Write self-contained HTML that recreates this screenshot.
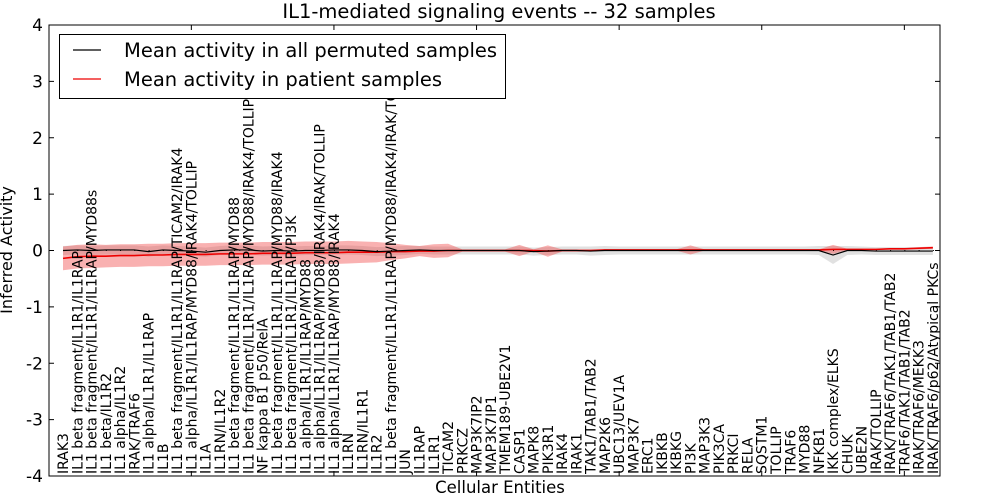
<!DOCTYPE html>
<html><head><meta charset="utf-8"><style>
body{margin:0;background:#fff;}
svg{display:block;font-family:"DejaVu Sans","Liberation Sans",sans-serif;}
</style></head><body>
<svg id="chart" width="1000" height="500"><defs><clipPath id="pc"><rect x="49" y="25" width="891" height="451"/></clipPath></defs></svg>
<script>
const categories=["IRAK3","IL1 beta fragment/IL1R1/IL1RAP","IL1 beta fragment/IL1R1/IL1RAP/MYD88s","IL1 beta/IL1R2","IL1 alpha/IL1R2","IRAK/TRAF6","IL1 alpha/IL1R1/IL1RAP","IL1B","IL1 beta fragment/IL1R1/IL1RAP/TICAM2/IRAK4","IL1 alpha/IL1R1/IL1RAP/MYD88/IRAK4/TOLLIP","IL1A","IL1RN/IL1R2","IL1 beta fragment/IL1R1/IL1RAP/MYD88","IL1 beta fragment/IL1R1/IL1RAP/MYD88/IRAK4/TOLLIP","NF kappa B1 p50/RelA","IL1 beta fragment/IL1R1/IL1RAP/MYD88/IRAK4","IL1 beta fragment/IL1R1/IL1RAP/PI3K","IL1 alpha/IL1R1/IL1RAP/MYD88","IL1 alpha/IL1R1/IL1RAP/MYD88/IRAK4/IRAK/TOLLIP","IL1 alpha/IL1R1/IL1RAP/MYD88/IRAK4","IL1RN","IL1RN/IL1R1","IL1R2","IL1 beta fragment/IL1R1/IL1RAP/MYD88/IRAK4/IRAK/TOLLIP","JUN","IL1RAP","IL1R1","TICAM2","PRKCZ","MAP3K7IP2","MAP3K7IP1","TMEM189-UBE2V1","CASP1","MAPK8","PIK3R1","IRAK4","IRAK1","TAK1/TAB1/TAB2","MAP2K6","UBC13/UEV1A","MAP3K7","ERC1","IKBKB","IKBKG","PI3K","MAP3K3","PIK3CA","PRKCI","RELA","SQSTM1","TOLLIP","TRAF6","MYD88","NFKB1","IKK complex/ELKS","CHUK","UBE2N","IRAK/TOLLIP","IRAK/TRAF6/TAK1/TAB1/TAB2","TRAF6/TAK1/TAB1/TAB2","IRAK/TRAF6/MEKK3","IRAK/TRAF6/p62/Atypical PKCs"];
const permMean=[0,0.01,0,0.01,0.01,0.01,-0.02,0.01,0,-0.01,-0.03,0,0.01,0.01,-0.01,0,-0.01,0,0,0.01,0.01,0,-0.02,-0.01,0,0.01,0,0,0,0,0,0,0,-0.02,-0.01,0,0,-0.01,0,0,0,0,0,0,0,0,0,0,0,0,0,0,0,0,-0.08,0,0,-0.01,-0.01,-0.01,-0.01,-0.01];
const permSd=[0.08,0.08,0.08,0.08,0.08,0.08,0.09,0.08,0.08,0.08,0.08,0.08,0.08,0.08,0.08,0.08,0.08,0.08,0.08,0.08,0.08,0.08,0.08,0.08,0.08,0.07,0.07,0.07,0.07,0.07,0.07,0.07,0.07,0.07,0.07,0.07,0.07,0.08,0.08,0.07,0.07,0.07,0.07,0.07,0.07,0.07,0.07,0.07,0.07,0.07,0.07,0.07,0.07,0.08,0.16,0.08,0.07,0.07,0.07,0.07,0.07,0.07];
const patMean=[-0.14,-0.11,-0.1,-0.1,-0.09,-0.09,-0.08,-0.08,-0.07,-0.07,-0.07,-0.06,-0.06,-0.06,-0.05,-0.05,-0.05,-0.04,-0.04,-0.04,-0.03,-0.03,-0.03,-0.02,-0.02,-0.01,-0.01,0,0,0,0,0,0,0,-0.01,0,0,0,0.01,0.01,0.01,0.01,0.01,0.01,0.01,0.01,0.01,0.01,0.01,0.01,0.01,0.01,0.01,0.01,0.02,0.02,0.02,0.02,0.03,0.03,0.04,0.05];
const patSd=[0.21,0.21,0.21,0.2,0.2,0.2,0.2,0.2,0.2,0.2,0.2,0.2,0.2,0.2,0.2,0.2,0.2,0.2,0.2,0.2,0.2,0.19,0.18,0.15,0.12,0.09,0.12,0.12,0.02,0.02,0.02,0.02,0.1,0.02,0.1,0.02,0.02,0.02,0.01,0.01,0.01,0.01,0.01,0.01,0.08,0.01,0.01,0.01,0.01,0.01,0.01,0.01,0.01,0.01,0.08,0.01,0.01,0.01,0.01,0.01,0.02,0.02];
const yTicks=[4,3,2,1,0,-1,-2,-3,-4];

const NS="http://www.w3.org/2000/svg";
const svg=document.getElementById('chart');
const L=49,R=940,T=25,B=476;
const xs=i=>63+i*(R-63)/61.5;
const ys=v=>T+(4-v)*(B-T)/8;
function mk(tag,attrs,parent){const e=document.createElementNS(NS,tag);for(const k in attrs)e.setAttribute(k,attrs[k]);(parent||svg).appendChild(e);return e;}
function band(m,s,fill,name){let d='';m.forEach((v,i)=>{d+=(i?'L':'M')+xs(i)+','+ys(v+s[i]);});for(let i=m.length-1;i>=0;i--)d+='L'+xs(i)+','+ys(m[i]-s[i]);d+='Z';const p=mk('path',{d:d,fill:fill});

}
function line(m,stroke,name,w){let d='';m.forEach((v,i)=>{d+=(i?'L':'M')+xs(i)+','+ys(v);});const p=mk('path',{d:d,fill:'none',stroke:stroke,'stroke-width':w});

}
band(permMean,permSd,'rgba(170,170,170,0.35)','permuted-band');
band(patMean,patSd,'rgba(240,60,60,0.4)','patient-band');
let dd='';permMean.forEach((v,i)=>{dd+='M'+xs(i)+','+ys(0)+'h1';});
mk('path',{d:dd,stroke:'#000','stroke-width':1,'stroke-dasharray':'1,2'});
line(patMean,'#e00','patient-mean-line',1.6);
line(permMean,'#000','permuted-mean-line',1.2);
// labels
const lg=mk('g',{'clip-path':'url(#pc)'});
categories.forEach((c,i)=>{const t=mk('text',{transform:`translate(${xs(i)+5},${B-2}) rotate(-90)`,'font-size':14,fill:'#000'},lg);t.textContent=c;

});
// frame
const fr=mk('rect',{x:L,y:T,width:R-L,height:B-T,fill:'none',stroke:'#000','stroke-width':1});


yTicks.forEach(v=>{mk('line',{x1:L,x2:L+5,y1:ys(v),y2:ys(v),stroke:'#000'});mk('line',{x1:R-5,x2:R,y1:ys(v),y2:ys(v),stroke:'#000'});
const t=mk('text',{x:L-6,y:ys(v)+6,'text-anchor':'end','font-size':17});t.textContent=v;

});
for(let k=10;k<=60;k+=10){const x=xs(k-1);mk('line',{x1:x,x2:x,y1:T,y2:T+5,stroke:'#000'});mk('line',{x1:x,x2:x,y1:B-5,y2:B,stroke:'#000'});}
</script>
<svg width="1000" height="500" style="position:absolute;left:0;top:0;font-family:'DejaVu Sans','Liberation Sans',sans-serif">
<text x="499" y="18" text-anchor="middle" font-size="19.5">IL1-mediated signaling events -- 32 samples</text>
<text transform="translate(12,250) rotate(-90)" text-anchor="middle" font-size="16">Inferred Activity</text>
<text x="500" y="493" text-anchor="middle" font-size="16.5">Cellular Entities</text>
<g>
<rect x="59.5" y="34.5" width="446" height="64" fill="#fff" stroke="#000"/>
<line x1="73" x2="101" y1="50" y2="50" stroke="#000" stroke-width="1.2"/>
<text x="124" y="57" font-size="19.5">Mean activity in all permuted samples</text>
<line x1="73" x2="101" y1="79" y2="79" stroke="#e00" stroke-width="1.2"/>
<text x="124" y="86" font-size="19.5">Mean activity in patient samples</text>
</g>
</svg>
</body></html>
